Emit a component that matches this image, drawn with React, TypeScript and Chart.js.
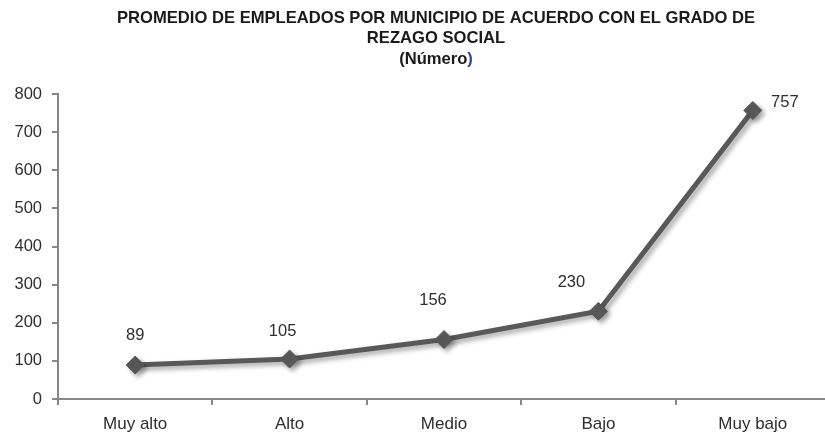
import React, { useEffect, useRef } from "react";
import { Chart, registerables } from "chart.js";

Chart.register(...registerables);

const categories = ["Muy alto", "Alto", "Medio", "Bajo", "Muy bajo"];
const values = [89, 105, 156, 230, 757];
const titleLines = [
  "PROMEDIO DE EMPLEADOS POR MUNICIPIO DE ACUERDO CON EL GRADO DE",
  "REZAGO SOCIAL",
];
const subtitleText = "(Número";
const subtitleClose = ")";
const yMin = 0;
const yMax = 800;
const yStep = 100;

const FONT = "'Liberation Sans', Arial, sans-serif";
const LINE = "#595959";
const AXIS = "#868686";
const TEXT = "#2e2e2e";

// label offsets relative to each point (style/layout)
const labelOffsets = [
  [0, -30],
  [-7, -28],
  [-11, -39],
  [-27, -29],
  [32, -8],
];

const titlePlugin = {
  id: "customTitle",
  afterDraw(chart: any) {
    const ctx = chart.ctx;
    ctx.save();
    ctx.font = `bold 16.6px ${FONT}`;
    ctx.fillStyle = "#1a1a1a";
    ctx.textAlign = "center";
    ctx.textBaseline = "middle";
    const cx = 436;
    ctx.fillText(titleLines[0], cx, 18);
    ctx.fillText(titleLines[1], cx, 38.5);
    const w1 = ctx.measureText(subtitleText).width;
    const w2 = ctx.measureText(subtitleClose).width;
    const start = cx - (w1 + w2) / 2;
    ctx.textAlign = "left";
    ctx.fillText(subtitleText, start, 59);
    ctx.fillStyle = "#1f4e9c";
    ctx.fillText(subtitleClose, start + w1, 59);
    ctx.restore();
  },
};

const shadowPlugin = {
  id: "lineShadow",
  beforeDatasetsDraw(chart: any) {
    const ctx = chart.ctx;
    ctx.save();
    ctx.shadowColor = "rgba(0,0,0,0.35)";
    ctx.shadowBlur = 5;
    ctx.shadowOffsetX = 3;
    ctx.shadowOffsetY = 3;
  },
  afterDatasetsDraw(chart: any) {
    chart.ctx.restore();
  },
};

const labelPlugin = {
  id: "pointLabels",
  afterDatasetsDraw(chart: any) {
    const ctx = chart.ctx;
    const meta = chart.getDatasetMeta(0);
    ctx.save();
    ctx.font = `16.5px ${FONT}`;
    ctx.fillStyle = TEXT;
    ctx.textAlign = "center";
    ctx.textBaseline = "middle";
    meta.data.forEach((pt: any, i: number) => {
      const off = labelOffsets[i] || [0, -30];
      ctx.fillText(String(values[i]), pt.x + off[0], pt.y + off[1]);
    });
    ctx.restore();
  },
};

export default function App() {
  const ref = useRef<HTMLCanvasElement | null>(null);

  useEffect(() => {
    if (!ref.current) return;
    const chart = new Chart(ref.current, {
      type: "line",
      data: {
        labels: categories,
        datasets: [
          {
            data: values,
            borderColor: LINE,
            backgroundColor: LINE,
            borderWidth: 5,
            pointStyle: "rectRot",
            pointRadius: 9,
            pointBackgroundColor: LINE,
            pointBorderColor: LINE,
            pointBorderWidth: 1,
            tension: 0,
            fill: false,
          },
        ],
      },
      options: {
        responsive: false,
        animation: false,
        devicePixelRatio: 1,
        layout: { padding: { top: 94, left: 0, right: 7, bottom: 0 } },
        plugins: {
          legend: { display: false },
          title: { display: false },
          tooltip: { enabled: false },
        },
        scales: {
          x: {
            type: "category",
            offset: true,
            grid: {
              offset: true,
              drawOnChartArea: false,
              drawTicks: true,
              tickLength: 6,
              color: AXIS,
              lineWidth: 2,
            },
            border: { display: true, color: AXIS, width: 2 },
            ticks: {
              color: TEXT,
              font: { family: FONT, size: 17 },
              padding: 9,
              maxRotation: 0,
            },
            afterFit(scale: any) {
              scale.height = 34;
            },
          },
          y: {
            min: yMin,
            max: yMax,
            grid: {
              drawOnChartArea: false,
              drawTicks: true,
              tickLength: 6,
              color: AXIS,
              lineWidth: 2,
            },
            border: { display: true, color: AXIS, width: 2 },
            ticks: {
              stepSize: yStep,
              color: TEXT,
              font: { family: FONT, size: 16.5 },
              padding: 10,
            },
            afterFit(scale: any) {
              scale.width = 58;
            },
          },
        },
      },
      plugins: [titlePlugin, shadowPlugin, labelPlugin],
    });
    return () => chart.destroy();
  }, []);

  return (
    <div
      style={{
        position: "fixed",
        left: 0,
        top: 0,
        width: 825,
        height: 433,
        overflow: "hidden",
        background: "#ffffff",
      }}
    >
      <canvas ref={ref} width={840} height={433} style={{ display: "block" }} />
    </div>
  );
}
